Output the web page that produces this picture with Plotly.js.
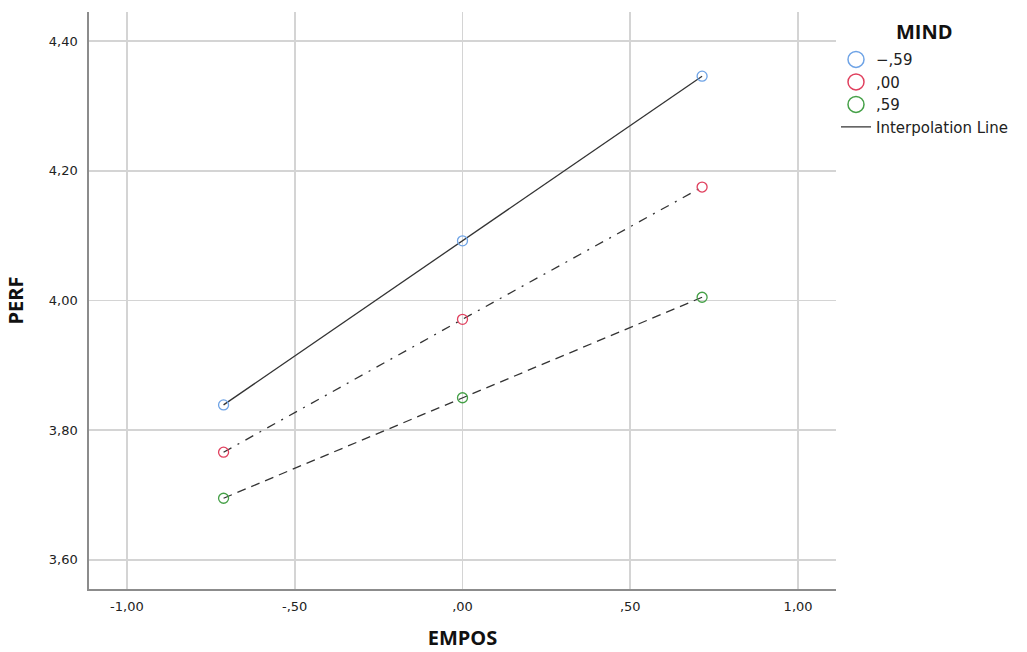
<!DOCTYPE html>
<html>
<head>
<meta charset="utf-8">
<script src="https://cdn.plot.ly/plotly-3.0.1.min.js"></script>
<style>html,body{margin:0;padding:0;background:#fff;}#chart{width:1027px;height:652px;}</style>
</head>
<body>
<div id="chart"></div>
<script>
const empos = [-0.712, 0.0, 0.714];
const groupLabels = ["\u2212,59", ",00", ",59"];
const legendTitle = "MIND";
const perfLow = [3.839, 4.092, 4.346];
const perfMid = [3.766, 3.971, 4.175];
const perfHigh = [3.695, 3.850, 4.005];
const xTickVals = [-1, -0.5, 0, 0.5, 1];
const xTickText = ["-1,00", "-,50", ",00", ",50", "1,00"];
const yTickVals = [3.6, 3.8, 4.0, 4.2, 4.4];
const yTickText = ["3,60", "3,80", "4,00", "4,20", "4,40"];

const colors = ["#6ea3e6", "#e0405e", "#45a047"];
const dashes = ["solid", "9px,7px,2px,7px", "9px,6px"];
const series = [perfLow, perfMid, perfHigh];

const traces = [];
series.forEach((ys, i) => {
  traces.push({
    x: empos, y: ys, type: "scatter", mode: "lines",
    line: {color: "#333333", width: 1.3, dash: dashes[i]},
    showlegend: false, hoverinfo: "skip"
  });
});
series.forEach((ys, i) => {
  traces.push({
    x: empos, y: ys, type: "scatter", mode: "markers",
    marker: {symbol: "circle-open", size: 10, color: colors[i], line: {width: 1.3, color: colors[i]}},
    showlegend: false
  });
});
groupLabels.forEach((lab, i) => {
  traces.push({
    x: [null], y: [null], type: "scatter", mode: "markers", name: lab,
    marker: {symbol: "circle-open", size: 16, color: colors[i], line: {width: 1.5, color: colors[i]}},
    showlegend: true
  });
});
traces.push({
  x: [null], y: [null], type: "scatter", mode: "lines", name: "Interpolation Line",
  line: {color: "#333333", width: 1.3}, showlegend: true
});

const titleFont = {size: 20, family: "Open Sans, DejaVu Sans, sans-serif", color: "#111"};

const layout = {
  width: 1027, height: 652,
  margin: {l: 89, r: 191, t: 12, b: 63, autoexpand: false},
  paper_bgcolor: "#ffffff", plot_bgcolor: "#ffffff",
  font: {family: "DejaVu Sans, Liberation Sans, sans-serif", color: "#222"},
  xaxis: {
    range: [-1.113, 1.113], tickvals: xTickVals, ticktext: xTickText,
    showgrid: true, gridcolor: "#d4d4d4", gridwidth: 1.6,
    zeroline: false, showline: true, linecolor: "#8c8c8c", linewidth: 1.6,
    ticks: "", ticklabelstandoff: 5, automargin: false,
    tickfont: {size: 13, color: "#222"},
    title: {text: "<b>EMPOS</b>", font: titleFont, standoff: 18}
  },
  yaxis: {
    range: [3.555, 4.445], tickvals: yTickVals, ticktext: yTickText,
    showgrid: true, gridcolor: "#d4d4d4", gridwidth: 1.6,
    zeroline: false, showline: true, linecolor: "#8c8c8c", linewidth: 1.6,
    ticks: "", ticklabelstandoff: 7, automargin: false,
    tickfont: {size: 13, color: "#222"},
    title: {text: "<b>PERF</b>", font: titleFont, standoff: 20}
  },
  legend: {
    x: 1.0, xanchor: "left", y: 0.946, yanchor: "top",
    bgcolor: "rgba(0,0,0,0)",
    font: {size: 15, family: "DejaVu Sans, Open Sans, sans-serif", color: "#222"},
    tracegroupgap: 0, itemwidth: 30
  },
  annotations: [{
    text: "<b>" + legendTitle + "</b>", xref: "paper", yref: "paper",
    x: 1.119, y: 0.967, xanchor: "center", yanchor: "middle",
    showarrow: false, font: titleFont
  }],
  showlegend: true
};

Plotly.newPlot("chart", traces, layout, {displayModeBar: false, staticPlot: true});
</script>
</body>
</html>
